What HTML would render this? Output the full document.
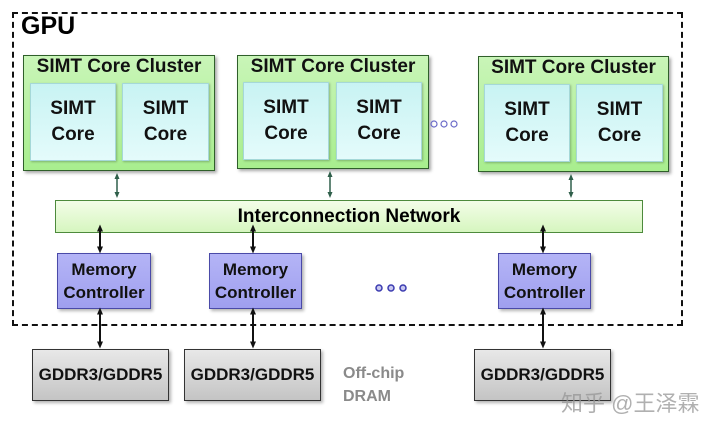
<!DOCTYPE html>
<html><head><meta charset="utf-8"><style>
body{margin:0;width:709px;height:427px;background:#fff;position:relative;overflow:hidden;font-family:"Liberation Sans","DejaVu Sans",sans-serif;}
.a{position:absolute;box-sizing:border-box;}
.cl{background:linear-gradient(#c9f5b8,#a8ee8e);border:1px solid #2f5f2a;box-shadow:2px 2px 3px rgba(0,0,0,.35);}
.cl .t{position:absolute;left:0;right:0;top:0px;text-align:center;font-weight:bold;font-size:19px;color:#111;}
.co{background:linear-gradient(#c8f3f3,#e4fbfb);border:1px solid #a5d8d8;text-align:center;font-weight:bold;font-size:19px;line-height:26px;padding-top:12px;color:#111;box-shadow:1px 1px 2px rgba(0,0,0,.25);}
.mc{background:linear-gradient(#b4b4f6,#9f9fef);border:1px solid #4a4aa8;text-align:center;font-weight:bold;font-size:17px;line-height:23px;padding-top:4px;color:#111;box-shadow:2px 2px 3px rgba(0,0,0,.3);}
.gd{background:linear-gradient(#e8e8e8,#c4c4c4);border:1px solid #333;text-align:center;font-weight:bold;font-size:17px;line-height:49px;color:#111;box-shadow:2px 2px 3px rgba(0,0,0,.3);}
</style></head><body>
<div class="a" style="left:12px;top:12px;width:671px;height:314px;border:2px dashed #111;"></div>
<div class="a" style="left:21px;top:12px;font-weight:bold;font-size:25px;">GPU</div>

<div class="a cl" style="left:23px;top:55px;width:192px;height:116px;"><div class="t">SIMT Core Cluster</div></div>
<div class="a co" style="left:30px;top:83px;width:86px;height:78px;">SIMT<br>Core</div>
<div class="a co" style="left:122px;top:83px;width:87px;height:78px;">SIMT<br>Core</div>

<div class="a cl" style="left:237px;top:55px;width:192px;height:114px;"><div class="t">SIMT Core Cluster</div></div>
<div class="a co" style="left:243px;top:82px;width:86px;height:78px;">SIMT<br>Core</div>
<div class="a co" style="left:336px;top:82px;width:86px;height:78px;">SIMT<br>Core</div>

<div class="a cl" style="left:478px;top:56px;width:191px;height:116px;"><div class="t">SIMT Core Cluster</div></div>
<div class="a co" style="left:484px;top:84px;width:86px;height:78px;">SIMT<br>Core</div>
<div class="a co" style="left:576px;top:84px;width:87px;height:78px;">SIMT<br>Core</div>

<div class="a" style="left:55px;top:200px;width:588px;height:33px;background:linear-gradient(#f3fde8,#d6f6bf);border:1px solid #4d8a3c;text-align:center;font-weight:bold;font-size:19px;line-height:31px;">Interconnection Network</div>

<div class="a mc" style="left:57px;top:253px;width:94px;height:56px;">Memory<br>Controller</div>
<div class="a mc" style="left:209px;top:253px;width:93px;height:56px;">Memory<br>Controller</div>
<div class="a mc" style="left:498px;top:253px;width:93px;height:56px;">Memory<br>Controller</div>

<div class="a gd" style="left:32px;top:349px;width:137px;height:52px;">GDDR3/GDDR5</div>
<div class="a gd" style="left:184px;top:349px;width:137px;height:52px;">GDDR3/GDDR5</div>
<div class="a gd" style="left:474px;top:349px;width:137px;height:52px;">GDDR3/GDDR5</div>

<div class="a" style="left:343px;top:362px;font-weight:bold;font-size:16px;line-height:23px;color:#8a8a8a;">Off-chip<br>DRAM</div>
<div class="a" style="left:561px;top:386px;font-size:22px;color:rgba(150,150,150,.75);font-family:'Liberation Sans','Noto Sans CJK SC',sans-serif;">知乎 @王泽霖</div>

<svg class="a" style="left:0;top:0" width="709" height="427">
<defs>
<marker id="g" markerUnits="userSpaceOnUse" markerWidth="6" markerHeight="6" refX="3" refY="3" orient="auto-start-reverse"><path d="M0,0.5L6,3L0,5.5z" fill="#2f5f4a"/></marker>
<marker id="k" markerUnits="userSpaceOnUse" markerWidth="7" markerHeight="7" refX="3.5" refY="3.5" orient="auto-start-reverse"><path d="M0,0.5L7,3.5L0,6.5z" fill="#111"/></marker>
</defs>
<g fill="none" stroke="#6b6bc8" stroke-width="1.2">
<circle cx="434" cy="124" r="3"/><circle cx="444" cy="124" r="3"/><circle cx="454" cy="124" r="3"/>
</g>
<g fill="#c8c8f0" stroke="#3b3bb0" stroke-width="1.5">
<circle cx="379" cy="288" r="3"/><circle cx="391" cy="288" r="3"/><circle cx="403" cy="288" r="3"/>
</g>
<g stroke="#2f5f4a" stroke-width="1.5">
<line x1="117" y1="176" x2="117" y2="195" marker-start="url(#g)" marker-end="url(#g)"/>
<line x1="330" y1="174" x2="330" y2="195" marker-start="url(#g)" marker-end="url(#g)"/>
<line x1="571" y1="177" x2="571" y2="195" marker-start="url(#g)" marker-end="url(#g)"/>
</g>
<g stroke="#111" stroke-width="2">
<line x1="100" y1="228" x2="100" y2="250" marker-start="url(#k)" marker-end="url(#k)"/>
<line x1="253" y1="228" x2="253" y2="250" marker-start="url(#k)" marker-end="url(#k)"/>
<line x1="543" y1="228" x2="543" y2="250" marker-start="url(#k)" marker-end="url(#k)"/>
<line x1="100" y1="311" x2="100" y2="345" marker-start="url(#k)" marker-end="url(#k)"/>
<line x1="253" y1="311" x2="253" y2="345" marker-start="url(#k)" marker-end="url(#k)"/>
<line x1="543" y1="311" x2="543" y2="345" marker-start="url(#k)" marker-end="url(#k)"/>
</g>
</svg>
</body></html>
